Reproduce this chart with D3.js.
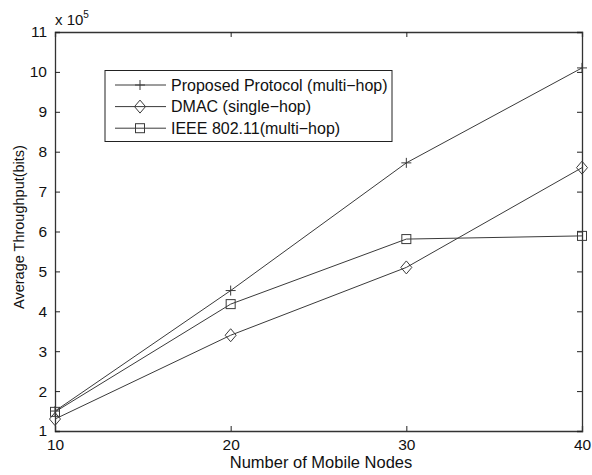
<!DOCTYPE html>
<html>
<head>
<meta charset="utf-8">
<script src="https://d3js.org/d3.v7.min.js"></script>
<style>
  body { margin: 0; background: #fff; }
  text { font-family: "Liberation Sans", Arial, sans-serif; fill: #111; }
</style>
</head>
<body>
<div id="chart"></div>
<script>
// Values (throughput in units of 1e5 bits)
const nodes = [10, 20, 30, 40];
const proposed = [1.5, 4.52, 7.72, 10.1];
const dmac = [1.3, 3.4, 5.1, 7.6];
const ieee = [1.48, 4.18, 5.81, 5.89];
const seriesNames = ["Proposed Protocol (multi\u2212hop)", "DMAC (single\u2212hop)", "IEEE 802.11(multi\u2212hop)"];
const seriesMarkers = ["plus", "diamond", "square"];
const yTicks = d3.range(1, 12);

const width = 592, height = 475;
const margin = { left: 55, right: 10, top: 32, bottom: 44 };

const svg = d3.select("#chart")
  .append("svg")
  .attr("width", width)
  .attr("height", height);

const x = d3.scaleLinear().domain([10, 40]).range([margin.left, width - margin.right]);
const y = d3.scaleLinear().domain([1, 11]).range([height - margin.bottom, margin.top]);

const lineColor = "#3a3a3a";
const tickLen = 5;

// axes: bottom/left with labels, top/right ticks only (box)
svg.append("g")
  .attr("transform", `translate(0,${y(1)})`)
  .call(d3.axisBottom(x).tickValues(nodes).tickSize(-tickLen).tickPadding(8).tickFormat(d3.format("d")));
svg.append("g")
  .attr("transform", `translate(0,${y(11)})`)
  .call(d3.axisTop(x).tickValues(nodes).tickSize(-tickLen).tickFormat(""));
svg.append("g")
  .attr("transform", `translate(${x(10)},0)`)
  .call(d3.axisLeft(y).tickValues(yTicks).tickSize(-tickLen).tickPadding(8).tickFormat(d3.format("d")));
svg.append("g")
  .attr("transform", `translate(${x(40)},0)`)
  .call(d3.axisRight(y).tickValues(yTicks).tickSize(-tickLen).tickFormat(""));

svg.selectAll(".domain").attr("stroke", "#333").attr("stroke-width", 1.3);
svg.selectAll(".tick line").attr("stroke", "#222");
svg.selectAll(".tick text").style("font-size", "15.5px").attr("fill", "#111");

// series
const allSeries = [proposed, dmac, ieee];
const line = d3.line().x((d, i) => x(nodes[i])).y(d => y(d));

function drawMarker(g, type, cx, cy) {
  if (type === "plus") {
    g.append("path").attr("d", `M${cx - 5},${cy}H${cx + 5}M${cx},${cy - 5}V${cy + 5}`);
  } else if (type === "diamond") {
    g.append("path").attr("d", `M${cx},${cy - 6.5}L${cx + 5.5},${cy}L${cx},${cy + 6.5}L${cx - 5.5},${cy}Z`);
  } else {
    g.append("rect").attr("x", cx - 4.5).attr("y", cy - 4.5).attr("width", 9).attr("height", 9);
  }
}

allSeries.forEach((vals, s) => {
  svg.append("path")
    .datum(vals)
    .attr("d", line)
    .attr("fill", "none")
    .attr("stroke", lineColor)
    .attr("stroke-width", 1);
  const g = svg.append("g").attr("fill", "none").attr("stroke", lineColor).attr("stroke-width", 1);
  vals.forEach((v, i) => drawMarker(g, seriesMarkers[s], x(nodes[i]), y(v)));
});

// legend
const legend = svg.append("g");
legend.append("rect")
  .attr("x", 105).attr("y", 70.5)
  .attr("width", 287).attr("height", 71)
  .attr("fill", "#fff").attr("stroke", "#222").attr("stroke-width", 1);
seriesNames.forEach((name, i) => {
  const ly = 85 + i * 21.6;
  legend.append("line")
    .attr("x1", 115).attr("x2", 166).attr("y1", ly).attr("y2", ly)
    .attr("stroke", lineColor).attr("stroke-width", 1);
  const g = legend.append("g").attr("fill", "none").attr("stroke", lineColor).attr("stroke-width", 1);
  drawMarker(g, seriesMarkers[i], 140, ly);
  legend.append("text")
    .attr("x", 171).attr("y", ly + 5.5)
    .style("font-size", "16px")
    .text(name);
});

// labels
svg.append("text")
  .attr("x", 321)
  .attr("y", 468)
  .attr("text-anchor", "middle")
  .style("font-size", "16.5px")
  .text("Number of Mobile Nodes");

svg.append("text")
  .attr("transform", `translate(24,227) rotate(-90)`)
  .attr("text-anchor", "middle")
  .style("font-size", "14.5px")
  .text("Average Throughput(bits)");

const exp = svg.append("text")
  .attr("x", 55).attr("y", 25)
  .style("font-size", "15px");
exp.append("tspan").text("x 10");
exp.append("tspan").attr("dy", -7).style("font-size", "10px").text("5");
</script>
</body>
</html>
